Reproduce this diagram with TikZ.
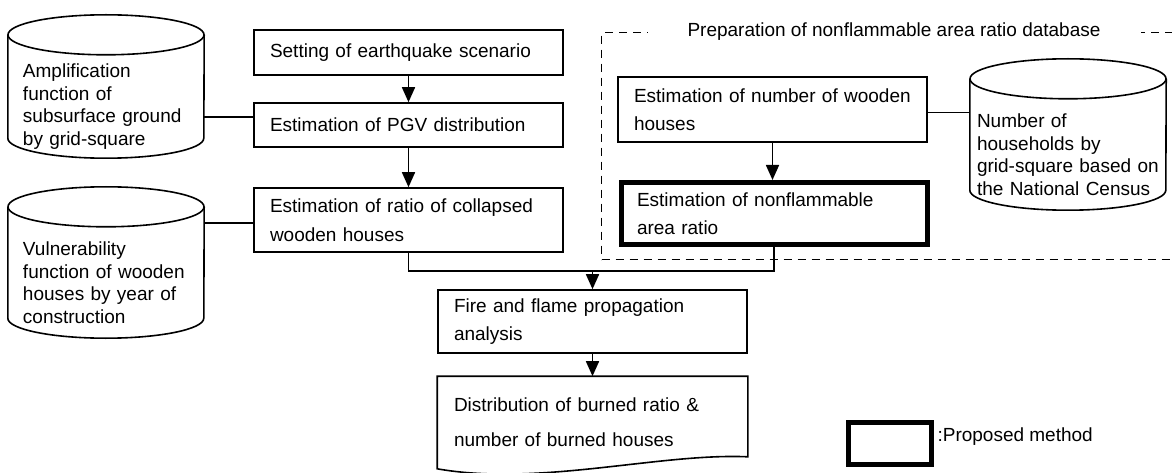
\documentclass[tikz,border=0pt]{standalone}
\usepackage{fontspec}
\setmainfont{Liberation Sans}
\usetikzlibrary{arrows.meta,positioning}
\begin{document}
\begin{tikzpicture}[
    x=1pt, y=1pt,
    procbox/.style={draw, line width=1.6pt, text width=277pt, inner xsep=16pt, align=left, font={\fontsize{19pt}{28.5pt}\selectfont}},
    proposed/.style={procbox, line width=5pt, text width=274pt},
    db/.style={minimum width=196pt, text width=166pt, inner xsep=15pt, align=left, font={\fontsize{19pt}{22.5pt}\selectfont}},
    dashframe/.style={draw, dash pattern=on 8pt off 6pt, line width=1.4pt},
    arrow/.style={-{Triangle[width=13pt,length=15pt]}, line width=1.6pt},
    link/.style={line width=1.6pt}
]
    \useasboundingbox (0,0) rectangle (1172,-473);

    % Frame of the database part
    \node[dashframe, anchor=north west, minimum width=620pt, minimum height=227pt] (prepframe) at (601,-32) {};
    \node[fill=white, inner xsep=40pt, font={\fontsize{19pt}{22.5pt}\selectfont}] (preptitle) at (894,-32) {Preparation of nonflammable area ratio database};

    % Databases
    \node[db, minimum height=103pt] (ampdb) at (106,-106.5) {Amplification\\function of\\subsurface ground\\by grid-square};
    \node[db, minimum height=111pt] (vulndb) at (106,-282.5) {Vulnerability\\function of wooden\\houses by year of\\construction};
    \node[db, minimum height=111pt, text width=182pt, inner xsep=7pt] (censusdb) at (1068,-154.5) {Number of\\households by\\grid-square based on\\the National Census};
    \foreach \db in {ampdb,vulndb,censusdb} {
        \draw[link] ([yshift=20pt]\db.north) ellipse[x radius=98pt, y radius=20pt];
        \draw[link] ([yshift=20pt]\db.north west) -- ([yshift=20pt]\db.south west)
            arc[start angle=180, end angle=360, x radius=98pt, y radius=20pt] -- ([yshift=20pt]\db.north east);
    }

    % Steps
    \node[procbox, minimum height=45pt] (scenario) at (408.5,-52.5) {Setting of earthquake scenario};
    \node[procbox, minimum height=44pt] (pgv) at (408.5,-125) {Estimation of PGV distribution};
    \node[procbox, minimum height=64pt] (collapse) at (408.5,-220) {Estimation of ratio of collapsed\\wooden houses};
    \node[procbox, minimum height=65pt] (wooden) at (772.5,-109.5) {Estimation of number of wooden\\houses};
    \node[proposed, minimum height=62pt] (nonflam) at (774,-213.5) {Estimation of nonflammable\\area ratio};
    \node[procbox, minimum height=63pt] (fire) at (592.5,-321.5) {Fire and flame propagation\\analysis};
    \node[procbox, draw=none, minimum height=91pt, font={\fontsize{19pt}{35pt}\selectfont}] (burned) at (592.5,-422.5) {Distribution of burned ratio \&\\number of burned houses};
    \draw[link] (burned.north west) -- (burned.north east) -- ([yshift=12pt]burned.south east)
        .. controls ([shift={(-88pt,16pt)}]burned.south east) and ([shift={(102pt,-18pt)}]burned.south west) .. (burned.south west) -- cycle;

    % Legend
    \node[draw, line width=5pt, minimum width=83pt, minimum height=42pt] (legendbox) at (890,-443.5) {};
    \node[right=0pt of legendbox, yshift=6.5pt, font={\fontsize{19pt}{22.5pt}\selectfont}] (legendtext) {:Proposed method};

    % Connections
    \draw[arrow] (scenario) -- (pgv);
    \draw[arrow] (pgv) -- (collapse);
    \draw[arrow] (wooden.south) -- (wooden.south |- nonflam.north);
    \draw[link] (collapse.south) -- ++(0,-18) coordinate (turn) -| (nonflam.south);
    \draw[arrow] (turn -| fire.north) -- (fire.north);
    \draw[arrow] (fire) -- (burned);
    \draw[link] ([yshift=8pt]pgv.west) -- ([yshift=8pt]pgv.west -| ampdb.east);
    \draw[link] ([yshift=-3pt]collapse.west) -- ([yshift=-3pt]collapse.west -| vulndb.east);
    \draw[link] ([yshift=-3pt]wooden.east) -- ([yshift=-3pt]wooden.east -| censusdb.west);
\end{tikzpicture}
\end{document}
